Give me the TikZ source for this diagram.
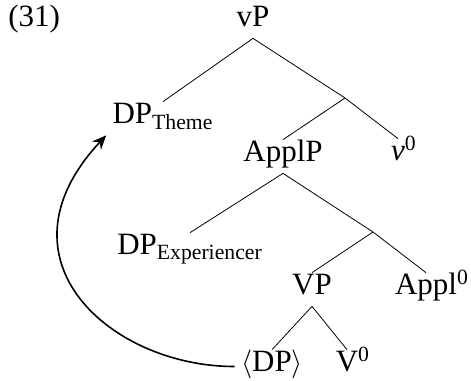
\documentclass[tikz,border=0pt]{standalone}
\usepackage{fontspec}
\setmainfont{Liberation Serif}
\usetikzlibrary{arrows.meta}

\tikzset{
  lbl/.style={anchor=base, inner xsep=1bp, inner ysep=3bp,
    text height=0.8em, text depth=0.25em},
  branch/.style={thin},
  movement/.style={thick, -{Stealth[length=7bp,width=6bp]}}
}

\begin{document}
\begin{tikzpicture}[x=0.5bp, y=-0.5bp, font=\fontsize{15.5bp}{18bp}\selectfont]
\useasboundingbox (0,0) rectangle (471,381);

\node[anchor=base west, inner sep=0pt] (exnum) at (8,27) {(31)};

\node[lbl] (vP) at (253,27) {vP};
\node[lbl] (DPt) at (163,124) {DP\textsubscript{Theme}};
\node[lbl] (ApplP) at (283,162) {ApplP};
\node[lbl] (v0) at (398,161) {\textit{v}\rlap{\textsuperscript{0}}};
\node[lbl] (DPe) at (190,255) {DP\textsubscript{Experiencer}};
\node[lbl] (VP) at (312,295) {VP};
\node[lbl] (Appl0) at (426,295) {Appl\rlap{\textsuperscript{0}}};
\node[lbl] (tDP) at (272,372) {$\langle$DP$\rangle$};
\node[lbl] (V0) at (347,372) {V\rlap{\textsuperscript{0}}};

\coordinate (vbar) at (345,98);
\coordinate (applbar) at (373,232);

\draw[branch] (DPt.north) -- (vP.south) -- (vbar) -- (v0.north);
\draw[branch] (vbar) -- (ApplP.north);
\draw[branch] (DPe.north) -- (ApplP.south) -- (applbar) -- (Appl0.north);
\draw[branch] (applbar) -- (VP.north);
\draw[branch] (tDP.north) -- (VP.south) -- (V0.north);

\draw[movement] ([xshift=-2bp]tDP.west) .. controls +(-62bp,0) and +(-58bp,-62bp) .. ([xshift=-2bp]DPt.south west);
\end{tikzpicture}
\end{document}
